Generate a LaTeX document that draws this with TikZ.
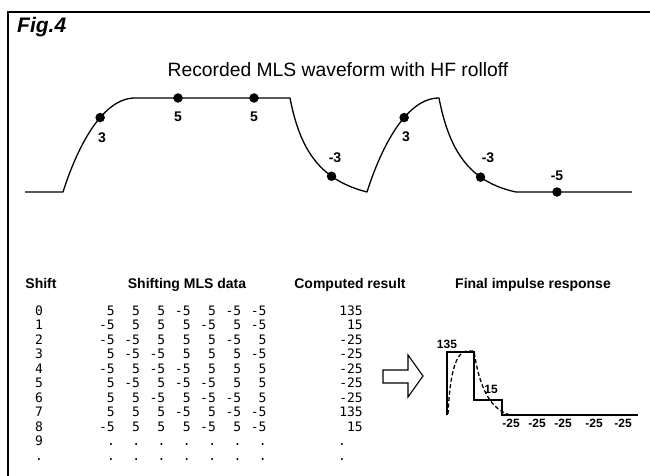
\documentclass[tikz,border=0pt]{standalone}
\usepackage{fontspec}
\setmainfont{Liberation Sans}
\newfontfamily\monof{DejaVu Sans Mono}
\begin{document}
\begin{tikzpicture}[x=1pt,y=-1pt,
  frame/.style={line width=1.6pt},
  wave/.style={line width=1.3pt,line join=round},
  dotn/.style={circle,fill=black,inner sep=0pt,minimum size=9.5pt},
  wlbl/.style={font=\fontsize{14}{16}\selectfont\bfseries,inner sep=0pt},
  hdr/.style={font=\fontsize{14}{16}\selectfont\bfseries,inner sep=0pt,anchor=base},
  mono/.style={font=\monof\fontsize{13}{15}\selectfont,inner sep=0pt},
  imp/.style={line width=1.6pt,line join=miter},
  impdash/.style={line width=1.3pt,dash pattern=on 4pt off 2.5pt},
  ilbl/.style={font=\fontsize{12}{14}\selectfont\bfseries,inner sep=0pt},
  blockarrow/.style={line width=1.1pt,line join=miter}]
\useasboundingbox (0,0) rectangle (650,476);
\fill[white] (0,0) rectangle (650,476);
% frame
\draw[frame] (8,476) -- (8,12) -- (650,12);
\node[font=\fontsize{21}{24}\selectfont\bfseries\itshape,inner sep=0pt,anchor=base west] (fig) at (17,33) {Fig.4};
\node[font=\fontsize{19.3}{22}\selectfont,inner sep=0pt,anchor=base] (title) at (338,77) {Recorded MLS waveform with HF rolloff};
% waveform
\draw[wave] (25,192) -- (63,192)
  .. controls (78,145) and (103,98) .. (135,98) coordinate[pos=0.6] (w1)
  -- (290,98)
  .. controls (300,150) and (320,180) .. (367,192) coordinate[pos=0.7] (w4)
  .. controls (382,145) and (407,98) .. (439,98) coordinate[pos=0.6] (w5)
  .. controls (449,150) and (469,182) .. (516,192) coordinate[pos=0.7] (w6)
  -- (632,192);
\node[dotn] (d1) at (w1) {};
\node[dotn] (d2) at (178,98) {};
\node[dotn] (d3) at (254,98) {};
\node[dotn] (d4) at (w4) {};
\node[dotn] (d5) at (w5) {};
\node[dotn] (d6) at (w6) {};
\node[dotn] (d7) at (557,192) {};
\node[wlbl] (l1) at (102,138) {3};
\node[wlbl] (l2) at (178,117) {5};
\node[wlbl] (l3) at (254,117) {5};
\node[wlbl] (l4) at (335,158) {-3};
\node[wlbl] (l5) at (406,137) {3};
\node[wlbl] (l6) at (488,158) {-3};
\node[wlbl] (l7) at (557,176) {-5};
% headers
\node[hdr] (h1) at (41,288) {Shift};
\node[hdr] (h2) at (187,288) {Shifting MLS data};
\node[hdr] (h3) at (350,288) {Computed result};
\node[hdr] (h4) at (533,288) {Final impulse response};
% table
\foreach \vals/\res [count=\r from 0] in {
  {5,5,5,-5,5,-5,-5}/135,
  {-5,5,5,5,-5,5,-5}/15,
  {-5,-5,5,5,5,-5,5}/-25,
  {5,-5,-5,5,5,5,-5}/-25,
  {-5,5,-5,-5,5,5,5}/-25,
  {5,-5,5,-5,-5,5,5}/-25,
  {5,5,-5,5,-5,-5,5}/-25,
  {5,5,5,-5,5,-5,-5}/135,
  {-5,5,5,5,-5,5,-5}/15}{
  \node[mono,anchor=base] (s\r) at (39,315+14.5*\r) {\r};
  \foreach \v [count=\c from 0] in \vals {
    \node[mono,anchor=base east] (t\r-\c) at (114.9+25.3*\c,315+14.5*\r) {\v};
  }
  \node[mono,anchor=base east] (c\r) at (363,315+14.5*\r) {\res};
}
\node[mono,anchor=base] (s9) at (39,445.5) {9};
\node[mono,anchor=base] (s10) at (39,460) {.};
\foreach \c in {0,...,6}{
  \node[mono,anchor=base] (t9-\c) at (111+25.3*\c,445.5) {.};
  \node[mono,anchor=base] (t10-\c) at (111+25.3*\c,460) {.};
}
\node[mono,anchor=base] (c9) at (342,445.5) {.};
\node[mono,anchor=base] (c10) at (342,460) {.};
% block arrow
\draw[blockarrow] (383,370) -- (408,370) -- (408,355) -- (423,376) -- (408,397) -- (408,383) -- (383,383) -- cycle;
% impulse response
\draw[imp] (447,415) -- (447,352) -- (474,352) -- (474,400) -- (502,400) -- (502,415) -- (638,415);
\draw[impdash] (448,414) .. controls (450,372) and (456,352) .. (467,351) -- (474,351)
  .. controls (478,378) and (486,408) .. (510,415);
\node[ilbl] (i1) at (447,344) {135};
\node[ilbl] (i2) at (491,389) {15};
\foreach \x [count=\k] in {511,537,563,594,623}{
  \node[ilbl] (m\k) at (\x,423) {-25};
}
\end{tikzpicture}
\end{document}
